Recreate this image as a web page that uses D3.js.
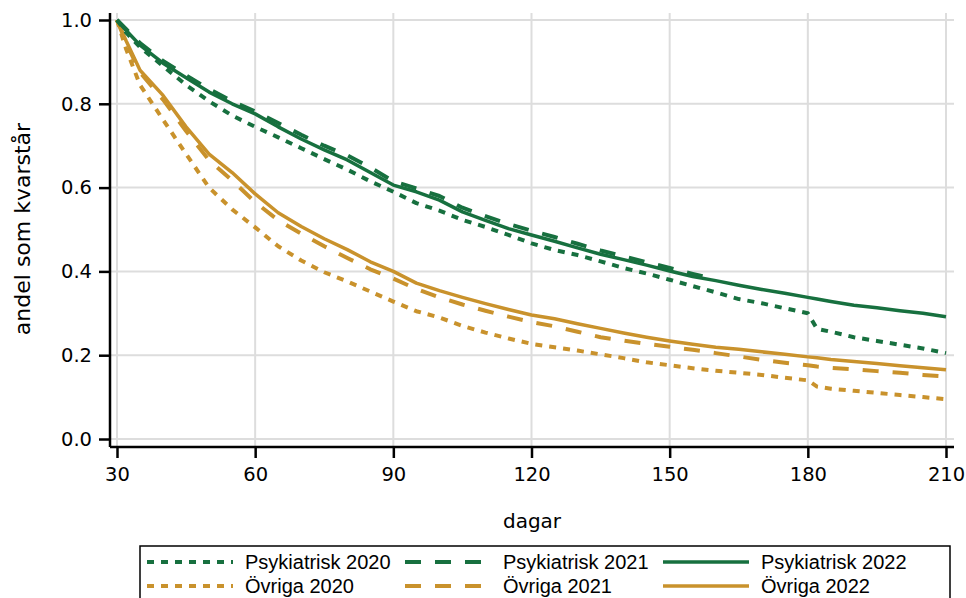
<!DOCTYPE html>
<html>
<head>
<meta charset="utf-8">
<script src="https://cdn.jsdelivr.net/npm/d3@7"></script>
<style>
  body { margin: 0; background: #fff; }
  svg { display: block; }
</style>
</head>
<body>
<svg></svg>
<script>
// days since start (x values shared by all series)
const days = [30, 32, 35, 40, 45, 50, 55, 60, 65, 70, 75, 80, 85, 90, 95, 100, 105, 110, 115, 120,
    125, 130, 135, 140, 145, 150, 155, 160, 165, 170, 175, 180, 182, 185, 190, 195, 200, 205, 210];

const psyk2020 = [1.0, 0.97, 0.935, 0.89, 0.845, 0.806, 0.772, 0.745, 0.72, 0.694, 0.668, 0.643, 0.615, 0.59, 0.563, 0.545, 0.523, 0.506, 0.487, 0.467,
    0.451, 0.439, 0.424, 0.408, 0.395, 0.38, 0.365, 0.35, 0.334, 0.324, 0.312, 0.30, 0.263, 0.256, 0.243, 0.234, 0.225, 0.216, 0.205];
const psyk2021 = [1.0, 0.978, 0.945, 0.902, 0.868, 0.835, 0.806, 0.782, 0.754, 0.726, 0.70, 0.677, 0.648, 0.615, 0.598, 0.58, 0.552, 0.532, 0.513, 0.497,
    0.482, 0.466, 0.45, 0.436, 0.422, 0.408, 0.394, 0.381, null, null, null, null, null, null, null, null, null, null, null];
const psyk2022 = [1.0, 0.975, 0.94, 0.897, 0.862, 0.828, 0.80, 0.776, 0.745, 0.716, 0.69, 0.666, 0.636, 0.606, 0.59, 0.57, 0.542, 0.522, 0.502, 0.487,
    0.472, 0.456, 0.441, 0.428, 0.415, 0.401, 0.388, 0.378, 0.367, 0.357, 0.348, 0.338, 0.334, 0.328, 0.319, 0.313, 0.306, 0.30, 0.292];
const ovriga2020 = [1.0, 0.93, 0.845, 0.762, 0.68, 0.60, 0.548, 0.505, 0.46, 0.426, 0.398, 0.376, 0.352, 0.328, 0.305, 0.29, 0.27, 0.254, 0.24, 0.227,
    0.219, 0.211, 0.202, 0.193, 0.183, 0.176, 0.169, 0.163, 0.158, 0.153, 0.146, 0.14, 0.125, 0.12, 0.115, 0.11, 0.105, 0.10, 0.095];
const ovriga2021 = [1.0, 0.945, 0.875, 0.81, 0.735, 0.665, 0.617, 0.565, 0.522, 0.49, 0.46, 0.432, 0.405, 0.383, 0.358, 0.338, 0.321, 0.306, 0.292, 0.279,
    0.269, 0.256, 0.243, 0.235, 0.227, 0.22, 0.213, 0.205, 0.197, 0.189, 0.182, 0.176, 0.173, 0.17, 0.166, 0.162, 0.158, 0.153, 0.149];
const ovriga2022 = [1.0, 0.95, 0.88, 0.82, 0.745, 0.68, 0.636, 0.585, 0.54, 0.507, 0.478, 0.452, 0.423, 0.40, 0.372, 0.354, 0.338, 0.323, 0.309, 0.296,
    0.287, 0.275, 0.264, 0.253, 0.243, 0.234, 0.226, 0.219, 0.214, 0.208, 0.202, 0.196, 0.194, 0.19, 0.185, 0.18, 0.175, 0.17, 0.165];

const xTicks = [30, 60, 90, 120, 150, 180, 210];
const yTicks = [0, 0.2, 0.4, 0.6, 0.8, 1.0];

const green = "#17703f";
const gold = "#c9922c";
const dotted = "7,7";
const dashed = "16,14";

const series = [
    { name: "Övriga 2022", values: ovriga2022, color: gold, dash: null },
    { name: "Övriga 2021", values: ovriga2021, color: gold, dash: dashed },
    { name: "Övriga 2020", values: ovriga2020, color: gold, dash: dotted },
    { name: "Psykiatrisk 2022", values: psyk2022, color: green, dash: null },
    { name: "Psykiatrisk 2021", values: psyk2021, color: green, dash: dashed },
    { name: "Psykiatrisk 2020", values: psyk2020, color: green, dash: dotted }
];

// legend order (row by row)
const legendOrder = ["Psykiatrisk 2020", "Psykiatrisk 2021", "Psykiatrisk 2022",
    "Övriga 2020", "Övriga 2021", "Övriga 2022"];

const width = 966;
const height = 598;

const svg = d3.select("svg")
    .attr("width", width)
    .attr("height", height);

const x = d3.scaleLinear().domain([30, 210]).range([117, 946]);
const y = d3.scaleLinear().domain([0, 1]).range([439, 20]);

const axisLeft = 110, axisBottom = 447, plotTop = 13, plotRight = 954;

// grid
const grid = svg.append("g").attr("stroke", "#dddddd").attr("stroke-width", 2);
grid.selectAll("line.h")
    .data(yTicks)
    .enter().append("line")
    .attr("x1", axisLeft).attr("x2", plotRight)
    .attr("y1", d => y(d)).attr("y2", d => y(d));
grid.selectAll("line.v")
    .data(xTicks)
    .enter().append("line")
    .attr("y1", plotTop).attr("y2", axisBottom)
    .attr("x1", d => x(d)).attr("x2", d => x(d));

// lines
const line = d3.line()
    .defined(d => d[1] !== null)
    .x(d => x(d[0]))
    .y(d => y(d[1]));

svg.append("g")
    .selectAll("path")
    .data(series)
    .enter().append("path")
    .attr("fill", "none")
    .attr("stroke", d => d.color)
    .attr("stroke-width", d => d.dash ? 4 : 3.5)
    .attr("stroke-dasharray", d => d.dash)
    .attr("stroke-linejoin", "round")
    .attr("d", d => line(days.map((day, i) => [day, d.values[i]])));

// axes
const yAxis = svg.append("g")
    .attr("transform", `translate(${axisLeft},0)`)
    .call(d3.axisLeft(y).tickValues(yTicks).tickFormat(d3.format(".1f")).tickSize(11).tickPadding(7));
yAxis.select(".domain").attr("d", `M0,${plotTop}V${axisBottom}`);

const xAxis = svg.append("g")
    .attr("transform", `translate(0,${axisBottom})`)
    .call(d3.axisBottom(x).tickValues(xTicks).tickSize(11).tickPadding(9));
xAxis.select(".domain").attr("d", `M${axisLeft},0H${plotRight}`);

svg.selectAll(".domain, .tick line")
    .attr("stroke", "#000")
    .attr("stroke-width", 2.5);
svg.selectAll(".tick text")
    .attr("fill", "#000")
    .style("font-family", "DejaVu Sans")
    .style("font-size", "19.5px");

// axis titles
svg.append("text")
    .attr("x", 532).attr("y", 528)
    .attr("text-anchor", "middle")
    .style("font-family", "DejaVu Sans")
    .style("font-size", "20px")
    .text("dagar");

svg.append("text")
    .attr("transform", "translate(30,229) rotate(-90)")
    .attr("text-anchor", "middle")
    .style("font-family", "DejaVu Sans")
    .style("font-size", "22px")
    .text("andel som kvarstår");

// legend
const legend = svg.append("g");
legend.append("rect")
    .attr("x", 140).attr("y", 546)
    .attr("width", 810).attr("height", 60)
    .attr("fill", "#fff")
    .attr("stroke", "#000")
    .attr("stroke-width", 1.5);

const items = legend.selectAll("g.item")
    .data(legendOrder.map(n => series.find(s => s.name === n)))
    .enter().append("g")
    .attr("transform", (d, i) => `translate(${147 + (i % 3) * 258},${562 + Math.floor(i / 3) * 24})`);

items.append("line")
    .attr("x1", 0).attr("x2", 86)
    .attr("stroke", d => d.color)
    .attr("stroke-width", d => d.dash ? 4 : 3.5)
    .attr("stroke-dasharray", d => d.dash);

items.append("text")
    .attr("x", 98).attr("y", 7)
    .style("font-family", "Liberation Sans")
    .style("font-size", "20px")
    .text(d => d.name);
</script>
</body>
</html>
